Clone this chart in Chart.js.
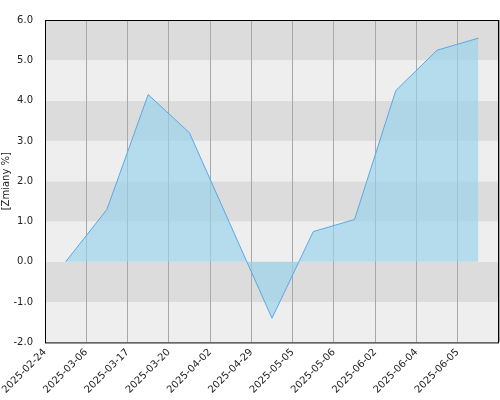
<!DOCTYPE html>
<html>
<head>
<style>
  body { margin: 0; background: #fff; }
  #wrap { width: 500px; height: 400px; }
</style>
</head>
<body>
<div id="wrap"><canvas id="myChart"></canvas></div>
<script src="https://cdn.jsdelivr.net/npm/chart.js@4/dist/chart.umd.min.js"></script>
<script>
var dateLabels = ["2025-02-24", "2025-03-06", "2025-03-17", "2025-03-20", "2025-04-02", "2025-04-29", "2025-05-05", "2025-05-06", "2025-06-02", "2025-06-04", "2025-06-05"];
var changes = [0.0, 1.3, 4.15, 3.2, 0.9, -1.4, 0.75, 1.05, 4.25, 5.25, 5.55];

// points sit in the middle of each date slot
var points = changes.map(function (v, i) { return { x: i + 0.5, y: v }; });

// striped background + black frame
var bands = {
    id: 'bands',
    beforeDraw: function (chart) {
        var ctx = chart.ctx, a = chart.chartArea, y = chart.scales.y;
        ctx.save();
        for (var v = -2; v < 6; v++) {
            ctx.fillStyle = (v % 2 === 0) ? '#eeeeee' : '#dcdcdc';
            var top = y.getPixelForValue(v + 1), bot = y.getPixelForValue(v);
            ctx.fillRect(a.left, top, a.right - a.left, bot - top);
        }
        ctx.restore();
    },
    afterDraw: function (chart) {
        var ctx = chart.ctx, a = chart.chartArea;
        ctx.save();
        ctx.strokeStyle = '#000';
        ctx.lineWidth = 1;
        ctx.strokeRect(a.left + 0.5, a.top + 0.5, a.right - a.left - 1, a.bottom - a.top);
        ctx.restore();
    }
};

var ctx = document.getElementById('myChart').getContext('2d');
var chart = new Chart(ctx, {
    type: 'line',
    data: {
        datasets: [{
            data: points,
            borderColor: '#5aa8e6',
            borderWidth: 1,
            backgroundColor: 'rgba(150, 210, 235, 0.65)',
            fill: 'origin',
            pointRadius: 0,
            tension: 0
        }]
    },
    options: {
        responsive: true,
        maintainAspectRatio: false,
        animation: false,
        layout: { padding: { top: 20, right: 1 } },
        plugins: { legend: { display: false }, tooltip: { enabled: false } },
        scales: {
            x: {
                type: 'linear',
                min: 0,
                max: 11,
                grid: { color: '#a8a8a8', drawTicks: false },
                border: { display: false },
                afterFit: function (s) { s.paddingRight = 0; s.paddingLeft = 0; },
                ticks: {
                    stepSize: 1,
                    autoSkip: false,
                    maxRotation: 45,
                    minRotation: 45,
                    padding: 4,
                    color: '#222',
                    font: { family: 'DejaVu Sans', size: 10 },
                    callback: function (v) { return dateLabels[v] || ''; }
                }
            },
            y: {
                min: -2,
                max: 6,
                grid: { display: false },
                border: { display: false },
                afterFit: function (s) { s.width = 45; },
                ticks: {
                    stepSize: 1,
                    padding: 4,
                    color: '#222',
                    font: { family: 'DejaVu Sans', size: 10 },
                    callback: function (v) { return v.toFixed(1); }
                },
                title: {
                    display: true,
                    text: '[Zmiany %]',
                    color: '#222',
                    padding: 0,
                    font: { family: 'DejaVu Sans', size: 10 }
                }
            }
        }
    },
    plugins: [bands]
});
</script>
</body>
</html>
